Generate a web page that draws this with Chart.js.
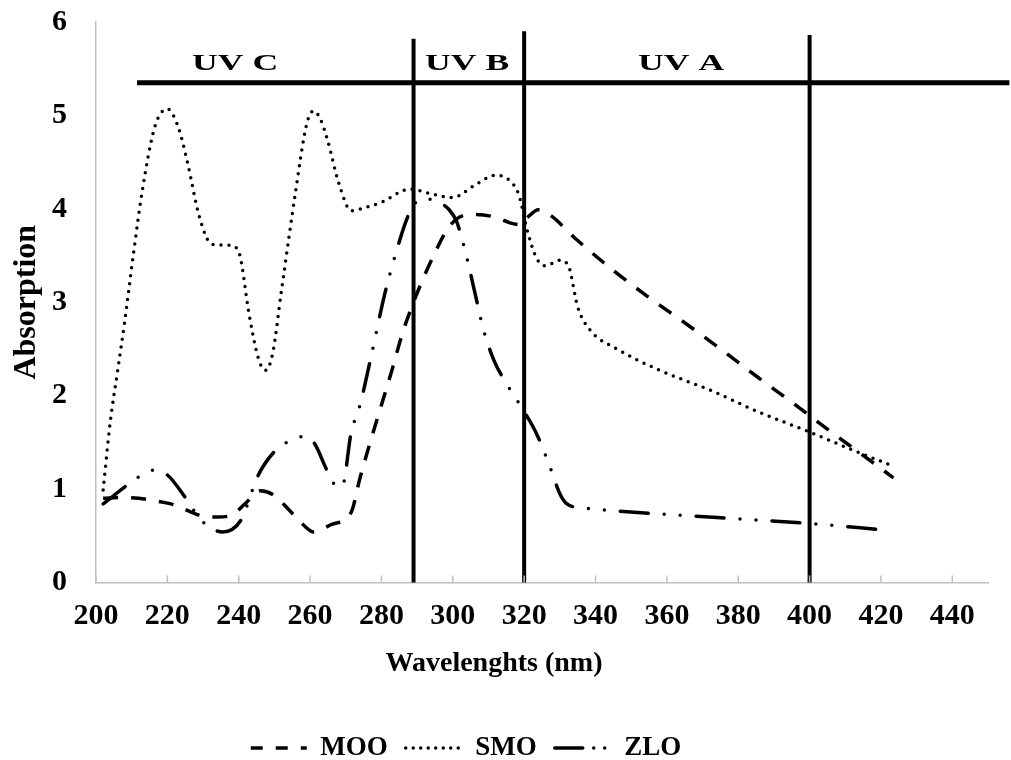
<!DOCTYPE html>
<html>
<head>
<meta charset="utf-8">
<title>Absorption spectra</title>
<script src="https://cdn.jsdelivr.net/npm/chart.js@4.4.1/dist/chart.umd.min.js"></script>
<style>
    body { margin: 0; background: #fff; }
    #wrap { width: 1011px; height: 760px; }
</style>
</head>
<body>
<div id="wrap"><canvas id="chart" width="1011" height="760"></canvas></div>
<script>
"use strict"

// values (wavelength in nm, absorption)
const mooX = [202, 207, 212, 217, 221, 225, 229, 234, 238, 242, 246, 250, 254, 258, 261, 266, 271.5, 274, 277, 280, 283, 286, 289, 292, 295, 298, 301, 306, 312, 316, 319, 321, 324, 327, 335, 345, 355, 365, 375, 385, 395, 405, 415, 423.5];
const mooY = [0.90, 0.91, 0.90, 0.87, 0.84, 0.78, 0.72, 0.70, 0.72, 0.85, 0.98, 0.93, 0.78, 0.62, 0.54, 0.62, 0.75, 1.12, 1.52, 1.90, 2.28, 2.68, 3.00, 3.28, 3.53, 3.75, 3.89, 3.94, 3.91, 3.85, 3.83, 3.91, 3.99, 3.94, 3.66, 3.34, 3.05, 2.78, 2.50, 2.21, 1.93, 1.64, 1.36, 1.12];

const smoX = [202, 204, 206, 208, 210.5, 213, 216.5, 220, 223, 225.5, 229, 232.5, 237.5, 240, 243, 245.5, 247.5, 249.5, 252, 256, 259, 261, 263, 265, 268, 271.5, 276, 280, 288, 294, 300, 306, 312, 316, 318.5, 321, 323.5, 326, 330, 332.5, 335, 338.5, 346, 358, 372, 386, 400, 410, 423];
const smoY = [0.99, 1.72, 2.25, 2.78, 3.52, 4.20, 4.88, 5.07, 4.88, 4.52, 3.91, 3.62, 3.61, 3.54, 2.85, 2.40, 2.27, 2.45, 3.13, 4.20, 4.90, 5.05, 4.95, 4.72, 4.28, 3.98, 4.02, 4.07, 4.21, 4.16, 4.12, 4.25, 4.36, 4.30, 4.15, 3.75, 3.47, 3.39, 3.45, 3.38, 2.95, 2.70, 2.50, 2.27, 2.06, 1.82, 1.61, 1.45, 1.25];

const zloX = [202, 208, 212, 216, 220, 225, 228, 230.5, 235.5, 240.5, 245.5, 250, 254, 258, 261, 265, 267.5, 269, 271.5, 274, 277, 281, 284, 287, 289, 292, 296, 299, 301, 303, 306.5, 308.5, 311.5, 315, 317.5, 320, 323.5, 327, 330, 332, 336, 341, 400, 421.5];
const zloY = [0.84, 1.02, 1.13, 1.20, 1.15, 0.91, 0.74, 0.63, 0.54, 0.66, 1.15, 1.40, 1.51, 1.56, 1.50, 1.18, 1.03, 1.03, 1.60, 1.90, 2.40, 3.10, 3.52, 3.88, 4.04, 4.11, 4.07, 3.99, 3.87, 3.62, 3.05, 2.72, 2.38, 2.13, 1.98, 1.83, 1.59, 1.26, 0.95, 0.84, 0.80, 0.78, 0.63, 0.56];

// UV band markers
const bandEdges = [289, 320, 400];
const bandEdgeTops = [5.82, 5.90, 5.86];
const bandBarX = [211.5, 456];
const bandBarY = 5.35;
const bandNames = ['UV C', 'UV B', 'UV A'];
const bandNameX = [239, 304, 364];
const bandNameY = 5.55;

const xTicks = [200, 220, 240, 260, 280, 300, 320, 340, 360, 380, 400, 420, 440];
const yTicks = [0, 1, 2, 3, 4, 5, 6];


const app = {
    canvasContext: document.getElementById('chart').getContext('2d'),
    serif: "'Liberation Serif', 'Times New Roman', serif",
    axisGrey: '#bfbfbf',
    // legend samples are shorter than a full period of the plot dashes
    legendDash: [[12, 13], [0, 7.5], [28, 11, 0, 11, 0, 20]]
};


function points(xs, ys)
{
    return xs.map((x, i) => ({ x: x, y: ys[i] }));
}


function seriesSet(label, xs, ys, dash, cap)
{
    return {
        label: label,
        data: points(xs, ys),
        borderColor: '#000',
        backgroundColor: '#000',
        borderWidth: 3.5,
        borderDash: dash,
        borderCapStyle: cap,
        pointRadius: 0,
        cubicInterpolationMode: 'monotone',
        fill: false
    };
}


function bandSets()
{
    const sets = bandEdges.map((edge, i) => ({
        label: 'edge' + i,
        data: [{ x: edge, y: 0 }, { x: edge, y: bandEdgeTops[i] }],
        borderColor: '#000',
        borderWidth: 4,
        pointRadius: 0,
        clip: false
    }));

    sets.push({
        label: 'bar',
        data: [{ x: bandBarX[0], y: bandBarY }, { x: bandBarX[1], y: bandBarY }],
        borderColor: '#000',
        borderWidth: 5,
        pointRadius: 0,
        clip: false
    });

    return sets;
}


function legendLabels(chart)
{
    const items = Chart.defaults.plugins.legend.labels.generateLabels(chart);

    return items.filter(item => item.datasetIndex < 3).map(item =>
    {
        const ds = chart.data.datasets[item.datasetIndex];
        item.lineDash = app.legendDash[item.datasetIndex];
        item.lineCap = ds.borderCapStyle;
        item.lineWidth = ds.borderWidth;
        item.strokeStyle = '#000';
        return item;
    });
}


// short tick marks pointing up into the plot, as in the original
const innerTicks =
{
    id: 'innerTicks',
    afterDatasetsDraw(chart)
    {
        const ctx = chart.ctx;
        const x = chart.scales.x;
        const base = chart.chartArea.bottom;

        ctx.save();
        ctx.strokeStyle = app.axisGrey;
        ctx.lineWidth = 1.5;
        x.ticks.forEach(t =>
        {
            const px = x.getPixelForValue(t.value);
            ctx.beginPath();
            ctx.moveTo(px, base);
            ctx.lineTo(px, base - 7);
            ctx.stroke();
        });
        ctx.restore();
    }
};


const bandLabels =
{
    id: 'bandLabels',
    afterDatasetsDraw(chart)
    {
        const ctx = chart.ctx;
        const { x, y } = chart.scales;

        ctx.save();
        ctx.fillStyle = '#000';
        ctx.font = 'bold 23px ' + app.serif;
        ctx.textAlign = 'center';
        ctx.textBaseline = 'middle';
        bandNames.forEach((name, i) =>
        {
            ctx.save();
            ctx.translate(x.getPixelForValue(bandNameX[i]), y.getPixelForValue(bandNameY));
            ctx.scale(1.55, 1);
            ctx.fillText(name, 0, 0);
            ctx.restore();
        });
        ctx.restore();
    }
};


// the legend sits a little left of centre in the original
const legendShift =
{
    id: 'legendShift',
    afterLayout(chart)
    {
        const lg = chart.legend;
        lg.left -= 28;
        lg.right -= 28;
        lg.top += 11.5;
        lg.bottom += 11.5;
    }
};


window.onload = () =>
{
    Chart.defaults.font.family = app.serif;
    Chart.defaults.font.weight = 'bold';
    Chart.defaults.color = '#000';

    const data =
    {
        datasets: [
            seriesSet('MOO', mooX, mooY, [15, 13], 'butt'),
            seriesSet('SMO', smoX, smoY, [0, 8], 'round'),
            seriesSet('ZLO', zloX, zloY, [28, 16, 0, 16, 0, 16], 'round'),
            ...bandSets()
        ]
    };

    const config =
    {
        type: 'line',
        data: data,
        options:
        {
            responsive: false,
            animation: false,
            events: [],
            layout: { padding: { left: 0, right: 23, top: 22, bottom: 0 } },
            scales:
            {
                x:
                {
                    type: 'linear',
                    min: 200,
                    max: 450,
                    afterBuildTicks: scale => { scale.ticks = xTicks.map(v => ({ value: v })); },
                    afterFit: scale => { scale.height = 58; },
                    ticks: { font: { size: 30, weight: 'bold' }, padding: 16, maxRotation: 0, autoSkip: false },
                    grid: { display: false, drawTicks: false },
                    border: { display: true, color: app.axisGrey, width: 1.5 }
                },
                y:
                {
                    min: 0,
                    max: 6,
                    afterBuildTicks: scale => { scale.ticks = yTicks.map(v => ({ value: v })); },
                    afterFit: scale =>
                    {
                        scale.width = 96;
                        scale.paddingTop = 0;
                        scale.paddingBottom = 0;
                    },
                    ticks: { font: { size: 30, weight: 'bold' }, padding: 29 },
                    grid: { display: false, drawTicks: false },
                    border: { display: true, color: app.axisGrey, width: 1.5 },
                    title:
                    {
                        display: true,
                        text: 'Absorption',
                        font: { size: 32, weight: 'bold' },
                        padding: { top: 8, bottom: 8 }
                    }
                }
            },
            plugins:
            {
                tooltip: { enabled: false },
                title:
                {
                    display: true,
                    text: 'Wavelenghts (nm)',
                    position: 'bottom',
                    weight: 500,
                    font: { size: 28, weight: 'bold' },
                    padding: { top: 7, bottom: 24 }
                },
                legend:
                {
                    position: 'bottom',
                    labels:
                    {
                        generateLabels: legendLabels,
                        usePointStyle: true,
                        pointStyle: 'line',
                        pointStyleWidth: 56,
                        padding: 18,
                        font: { size: 27, weight: 'bold' }
                    }
                }
            }
        },
        plugins: [innerTicks, bandLabels, legendShift]
    };

    const myChart = new Chart(app.canvasContext, config);
}
</script>
</body>
</html>
